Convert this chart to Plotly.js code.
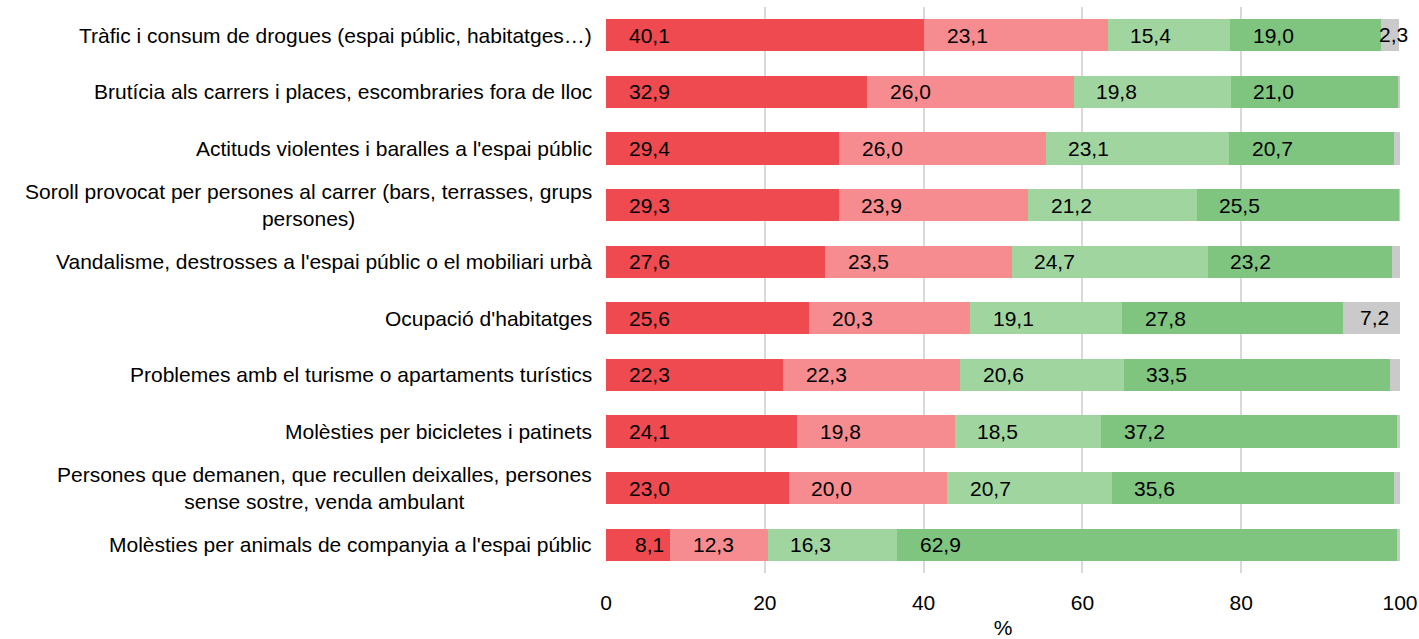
<!DOCTYPE html>
<html>
<head>
<meta charset="utf-8">
<script src="https://cdn.plot.ly/plotly-3.0.1.min.js"></script>
<style>html,body{margin:0;padding:0;background:#fff;}#chart{width:1419px;height:639px;}</style>
</head>
<body>
<div id="chart"></div>
<script>
const categories = [
  "Tràfic i consum de drogues (espai públic, habitatges…)",
  "Brutícia als carrers i places, escombraries fora de lloc",
  "Actituds violentes i baralles a l'espai públic",
  "Soroll provocat per persones al carrer (bars, terrasses, grups<br>persones)",
  "Vandalisme, destrosses a l'espai públic o el mobiliari urbà",
  "Ocupació d'habitatges",
  "Problemes amb el turisme o apartaments turístics",
  "Molèsties per bicicletes i patinets",
  "Persones que demanen, que recullen deixalles, persones<br>sense sostre, venda ambulant",
  "Molèsties per animals de companyia a l'espai públic"
];
const series1 = [40.1, 32.9, 29.4, 29.3, 27.6, 25.6, 22.3, 24.1, 23.0, 8.1];
const series2 = [23.1, 26.0, 26.0, 23.9, 23.5, 20.3, 22.3, 19.8, 20.0, 12.3];
const series3 = [15.4, 19.8, 23.1, 21.2, 24.7, 19.1, 20.6, 18.5, 20.7, 16.3];
const series4 = [19.0, 21.0, 20.7, 25.5, 23.2, 27.8, 33.5, 37.2, 35.6, 62.9];
const series5 = [2.3, 0.3, 0.8, 0.1, 1.0, 7.2, 1.3, 0.4, 0.7, 0.4];
const xTicks = [0, 20, 40, 60, 80, 100];

const colors = ["#F04A51", "#F68C8F", "#A0D5A0", "#7FC47F", "#CACACA"];
const allSeries = [series1, series2, series3, series4, series5];
const ids = categories.map((c, i) => "c" + i);

const fontFam = "Liberation Sans, Arial, sans-serif";
const FS = 21;
const traces = allSeries.map((vals, s) => ({
  type: "bar",
  orientation: "h",
  x: vals,
  y: ids,
  marker: {color: colors[s], line: {width: 0}},
  hoverinfo: "x",
  showlegend: false
}));

const fmt = v => v.toFixed(1).replace(".", ",");
const annotations = [];
ids.forEach((id, i) => {
  let base = 0;
  allSeries.forEach((vals, s) => {
    const v = vals[i];
    if (s < 4) {
      annotations.push({x: base, y: id, xref: "x", yref: "y", text: fmt(v), showarrow: false,
        xanchor: "center", xshift: 43, font: {family: fontFam, size: FS, color: "#000"}});
    } else if (v >= 2) {
      annotations.push({x: base + v / 2, y: id, xref: "x", yref: "y", text: fmt(v), showarrow: false,
        xanchor: "center", xshift: 3, yshift: 1, font: {family: fontFam, size: FS, color: "#000"}});
    }
    base += v;
  });
  annotations.push({x: 0, y: id, xref: "paper", yref: "y", text: categories[i], showarrow: false,
    xanchor: "right", align: "center", xshift: -12, font: {family: fontFam, size: FS, color: "#000"}});
});

const layout = {
  width: 1419, height: 639,
  margin: {l: 606, r: 19, t: 7, b: 66},
  barmode: "stack",
  bargap: 0.43,
  paper_bgcolor: "#fff", plot_bgcolor: "#fff",
  font: {family: fontFam, size: FS, color: "#000"},
  xaxis: {range: [0, 100], tickvals: xTicks, ticktext: xTicks.map(String), showgrid: true,
    gridcolor: "#D9D9D9", gridwidth: 2, zeroline: false, showline: false, ticks: "",
    ticklabelstandoff: 15, automargin: false,
    tickfont: {family: fontFam, size: FS}, title: {text: "%", font: {family: fontFam, size: FS}, standoff: 8}},
  yaxis: {categoryorder: "array", categoryarray: ids, autorange: "reversed", showticklabels: false,
    showgrid: false, zeroline: false, showline: false, ticks: ""},
  annotations: annotations
};
Plotly.newPlot("chart", traces, layout, {displayModeBar: false, staticPlot: true});
</script>
</body>
</html>
